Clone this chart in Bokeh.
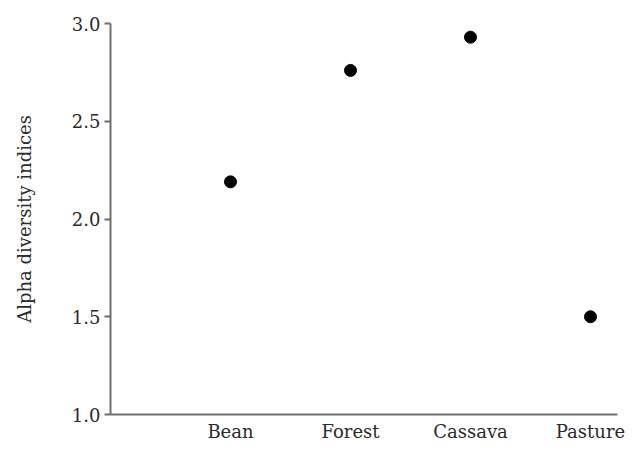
from bokeh.plotting import figure
from bokeh.models import ColumnDataSource, FixedTicker, Range1d
from bokeh.embed import file_html
from bokeh.resources import INLINE

categories = ["Bean", "Forest", "Cassava", "Pasture"]
alpha_values = [2.19, 2.76, 2.93, 1.50]
y_ticks = [1.0, 1.5, 2.0, 2.5, 3.0]

positions = list(range(1, len(categories) + 1))
source = ColumnDataSource(data=dict(x=positions, y=alpha_values, cat=categories))

p = figure(width=625, height=444, output_backend="svg", toolbar_location=None,
           x_range=Range1d(0, 4.225), y_range=Range1d(1.0, 3.0),
           min_border_left=110, min_border_right=8, min_border_top=23, min_border_bottom=27)

p.scatter("x", "y", source=source, size=12, color="black")

p.xgrid.visible = False
p.ygrid.visible = False
p.outline_line_color = None

font = "DejaVu Serif"
axis_color = "#6e6e6e"
text_color = "#2a2a2a"

p.xaxis.ticker = FixedTicker(ticks=positions)
p.xaxis.major_label_overrides = {pos: c for pos, c in zip(positions, categories)}
p.xaxis.major_tick_line_color = None
p.xaxis.minor_tick_line_color = None
p.xaxis.major_tick_out = 0
p.xaxis.major_tick_in = 0
p.xaxis.major_label_standoff = 6
p.xaxis.axis_line_width = 2
p.xaxis.axis_line_color = axis_color
p.xaxis.major_label_text_font = font
p.xaxis.major_label_text_font_size = "18px"
p.xaxis.major_label_text_color = text_color

p.yaxis.ticker = FixedTicker(ticks=y_ticks)
p.yaxis.major_label_overrides = {t: f"{t:.1f}" for t in y_ticks}
p.yaxis.minor_tick_line_color = None
p.yaxis.major_tick_in = 0
p.yaxis.major_tick_out = 6
p.yaxis.major_tick_line_width = 2
p.yaxis.major_tick_line_color = axis_color
p.yaxis.axis_line_width = 2
p.yaxis.axis_line_color = axis_color
p.yaxis.major_label_text_font = font
p.yaxis.major_label_text_font_size = "18px"
p.yaxis.major_label_text_color = text_color
p.yaxis.major_label_standoff = 4
p.yaxis.axis_label = "Alpha diversity indices"
p.yaxis.axis_label_text_font = font
p.yaxis.axis_label_text_font_size = "18px"
p.yaxis.axis_label_text_font_style = "normal"
p.yaxis.axis_label_text_color = text_color
p.yaxis.axis_label_standoff = 34

open("out.html", "w").write(file_html(p, INLINE))
